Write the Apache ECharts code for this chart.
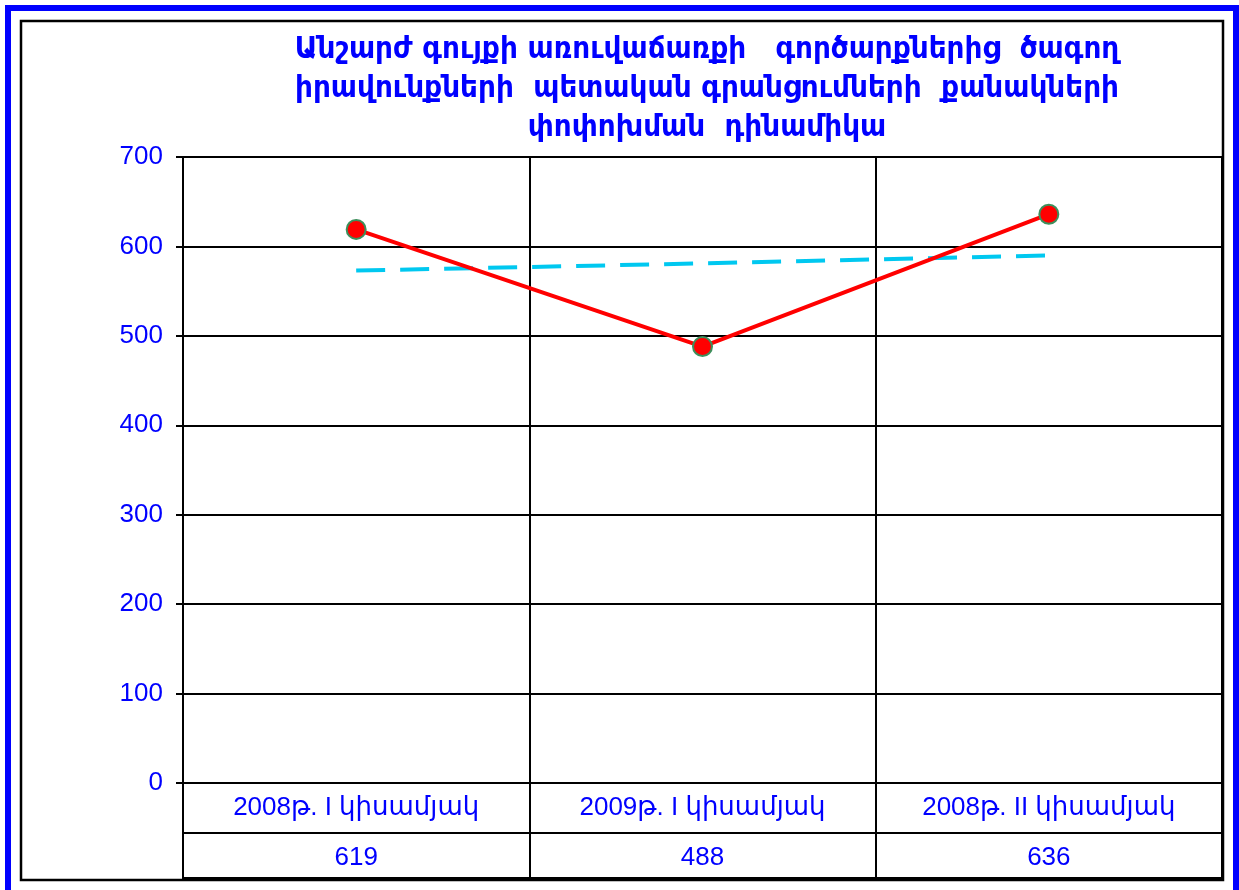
<!DOCTYPE html>
<html>
<head>
<meta charset="utf-8">
<script src="https://cdn.jsdelivr.net/npm/echarts@6/dist/echarts.min.js"></script>
<style>
  html, body { margin: 0; padding: 0; background: #fff; }
  #chart { width: 1239px; height: 890px; }
</style>
</head>
<body>
<div id="chart"></div>
<script>
const titleLines = [
  'Անշարժ գույքի առուվաճառքի   գործարքներից  ծագող',
  'իրավունքների  պետական գրանցումների  քանակների',
  'փոփոխման  դինամիկա'
];
const categories = ['2008թ. I կիսամյակ', '2009թ. I կիսամյակ', '2008թ. II կիսամյակ'];
const values = [619, 488, 636];
const trend = [573, 581, 590];
const yMin = 0;
const yMax = 700;
const yStep = 100;

const blue = '#0000ff';
const lineBlack = '#000';
const labelFont = "'Liberation Sans', Arial, 'DejaVu Sans', sans-serif";

const chart = echarts.init(document.getElementById('chart'));

// table rows share the plot's x range; each row is its own grid
const tableAxis = (gridIndex, data, margin) => ({
  type: 'category',
  gridIndex,
  position: 'top',
  data,
  axisLine: { show: false },
  axisTick: { show: false },
  splitLine: { show: true, interval: 0, lineStyle: { color: lineBlack, width: 2 } },
  axisLabel: {
    inside: true,
    interval: 0,
    margin,
    verticalAlign: 'middle',
    color: blue,
    fontSize: 26,
    fontFamily: labelFont
  }
});

const hiddenY = gridIndex => ({
  type: 'value',
  gridIndex,
  show: false
});

const option = {
  backgroundColor: '#fff',
  animation: false,
  title: {
    text: titleLines.join('\n'),
    left: 702,
    top: 25,
    textAlign: 'center',
    textStyle: {
      color: blue,
      fontSize: 31,
      fontWeight: 'bold',
      lineHeight: 39,
      fontFamily: "'DejaVu Sans Condensed', 'DejaVu Sans', sans-serif"
    }
  },
  graphic: [
    {
      type: 'rect',
      shape: { x: 8, y: 8, width: 1228, height: 900 },
      style: { fill: 'none', stroke: blue, lineWidth: 6 },
      silent: true
    },
    {
      type: 'rect',
      shape: { x: 21, y: 21, width: 1202, height: 859 },
      style: { fill: 'none', stroke: lineBlack, lineWidth: 2.5 },
      silent: true
    }
  ],
  grid: [
    { left: 183, top: 157, width: 1039, height: 626, show: false },
    { left: 183, top: 783, width: 1039, height: 50, show: true, borderColor: lineBlack, borderWidth: 2 },
    { left: 183, top: 833, width: 1039, height: 45, show: true, borderColor: lineBlack, borderWidth: 2 }
  ],
  xAxis: [
    {
      type: 'category',
      gridIndex: 0,
      data: categories,
      axisLine: { show: true, lineStyle: { color: lineBlack, width: 2 } },
      axisTick: { show: false },
      axisLabel: { show: false },
      splitLine: { show: true, interval: 0, lineStyle: { color: lineBlack, width: 2 } }
    },
    tableAxis(1, categories, 25),
    tableAxis(2, values.map(String), 25)
  ],
  yAxis: [
    {
      type: 'value',
      gridIndex: 0,
      min: yMin,
      max: yMax,
      interval: yStep,
      axisLine: { show: true, lineStyle: { color: lineBlack, width: 2 } },
      axisTick: { show: true, length: 7, lineStyle: { color: lineBlack, width: 2 } },
      axisLabel: { color: blue, fontSize: 26, margin: 20, fontFamily: labelFont },
      splitLine: { show: true, lineStyle: { color: lineBlack, width: 2 } }
    },
    hiddenY(1),
    hiddenY(2)
  ],
  series: [
    {
      name: 'trend',
      type: 'line',
      xAxisIndex: 0,
      yAxisIndex: 0,
      data: trend,
      symbol: 'none',
      lineStyle: { color: '#00c8f0', width: 4, type: [29, 15] },
      z: 3
    },
    {
      name: 'count',
      type: 'line',
      xAxisIndex: 0,
      yAxisIndex: 0,
      data: values,
      symbol: 'circle',
      symbolSize: 19,
      lineStyle: { color: '#ff0000', width: 4 },
      itemStyle: { color: '#ff0000', borderColor: '#3d8f5c', borderWidth: 2 },
      z: 4
    }
  ]
};

chart.setOption(option);
</script>
</body>
</html>
